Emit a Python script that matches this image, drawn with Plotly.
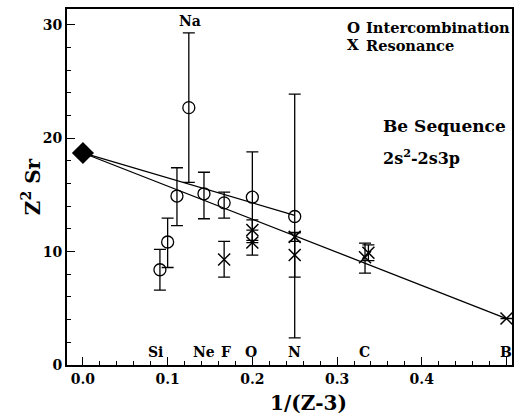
import plotly.graph_objects as go

# Intercombination (circles): Si, Al, Mg, Na, Ne, F, O, N
ic_x = [0.0909, 0.100, 0.111, 0.125, 0.1429, 0.1667, 0.200, 0.250]
ic_y = [8.4, 10.85, 14.9, 22.7, 15.1, 14.3, 14.8, 13.1]
ic_err_plus = [1.8, 2.1, 2.5, 6.6, 1.9, 0.95, 4.0, 10.8]
ic_err_minus = [1.8, 2.25, 2.6, 6.6, 2.2, 1.35, 4.0, 10.7]

# Resonance (crosses): F, O, O, N, N, C, C, B
res_x = [0.1667, 0.200, 0.200, 0.250, 0.250, 0.333, 0.337, 0.500]
res_y = [9.3, 11.9, 10.8, 11.3, 9.7, 9.5, 9.9, 4.1]
res_err_plus = [1.6, 0.9, 1.1, 0.4, 1.95, 1.25, 0.7, 0.0]
res_err_minus = [1.55, 0.9, 1.1, 0.4, 1.95, 1.4, 0.7, 0.0]

# Extrapolated point and fit lines
ext_x = [0.0]
ext_y = [18.7]
fit_ic_x = [0.0, 0.25]
fit_ic_y = [18.7, 13.2]
fit_res_x = [0.0, 0.5]
fit_res_y = [18.7, 4.1]

# Element labels
bottom_elements = ["Si", "Ne", "F", "O", "N", "C", "B"]
bottom_elements_x = [0.0860, 0.1429, 0.1690, 0.198, 0.250, 0.332, 0.500]
top_elements = ["Na"]
top_elements_x = [0.126]

x_ticks = [0.0, 0.1, 0.2, 0.3, 0.4, 0.5]
y_ticks = [0, 10, 20, 30]

FONT = "DejaVu Serif"
W, H = 517, 420
L, R, T, B = 67, 514, 9, 365


def px2paper(px, py):
    return (px - L) / (R - L), (B - py) / (B - T)


def ptext(px, py, text, size, bold=True, anchor="center", angle=0):
    x, y = px2paper(px, py)
    f = dict(family=FONT, size=size, color="black", weight="bold" if bold else "normal")
    return dict(x=x, y=y, xref="paper", yref="paper", text=text, showarrow=False,
                xanchor=anchor, yanchor="middle", textangle=angle, font=f)


fig = go.Figure()
fig.add_trace(go.Scatter(x=fit_ic_x, y=fit_ic_y, mode="lines",
                         line=dict(color="black", width=1.3), showlegend=False))
fig.add_trace(go.Scatter(x=fit_res_x, y=fit_res_y, mode="lines",
                         line=dict(color="black", width=1.3), showlegend=False))
fig.add_trace(go.Scatter(
    x=ic_x, y=ic_y, mode="markers",
    marker=dict(symbol="circle-open", size=12, color="black", line=dict(width=1.3)),
    error_y=dict(type="data", symmetric=False, array=ic_err_plus, arrayminus=ic_err_minus,
                 color="black", thickness=1.3, width=6),
    showlegend=False))
fig.add_trace(go.Scatter(
    x=res_x, y=res_y, mode="markers",
    marker=dict(symbol="x-thin-open", size=12, color="black", line=dict(width=1.5)),
    error_y=dict(type="data", symmetric=False, array=res_err_plus, arrayminus=res_err_minus,
                 color="black", thickness=1.3, width=6),
    showlegend=False))
fig.add_trace(go.Scatter(x=ext_x, y=ext_y, mode="markers",
                         marker=dict(symbol="diamond", size=17, color="black"),
                         showlegend=False))

annotations = []
for name, xv in zip(bottom_elements, bottom_elements_x):
    annotations.append(dict(x=xv, y=1.15, xref="x", yref="y", text=name, showarrow=False,
                            xanchor="center", yanchor="middle",
                            font=dict(family=FONT, size=14, color="black", weight="bold")))
for name, xv in zip(top_elements, top_elements_x):
    annotations.append(dict(x=xv, y=30.3, xref="x", yref="y", text=name, showarrow=False,
                            xanchor="center", yanchor="middle",
                            font=dict(family=FONT, size=14, color="black", weight="bold")))

annotations += [
    ptext(346, 28, "O", 15, anchor="left"),
    ptext(365, 28, "Intercombination", 14.6, anchor="left"),
    ptext(346, 45, "X", 15, anchor="left"),
    ptext(365, 45, "Resonance", 14.6, anchor="left"),
    ptext(446, 126, "Be Sequence", 17),
    ptext(423, 157, "2s<sup>2</sup>-2s3p", 16),
    ptext(310, 403, "1/(Z-3)", 20),
    ptext(31, 187, "Z<sup>2</sup> Sr", 20, angle=-90),
]

fig.update_layout(
    width=W, height=H,
    margin=dict(l=L, r=W - R, t=T, b=H - B, pad=0),
    paper_bgcolor="white", plot_bgcolor="white",
    font=dict(family=FONT, color="black", size=14, weight="bold"),
    annotations=annotations,
    xaxis=dict(range=[-0.0188, 0.5065], tickvals=x_ticks, ticktext=[f"{v:.1f}" for v in x_ticks],
               ticks="inside", ticklen=8, tickwidth=1.3, tickcolor="black",
               minor=dict(dtick=0.02, tick0=0, ticks="inside", ticklen=4, tickwidth=1, tickcolor="black"),
               showline=True, linecolor="black", linewidth=1.8, mirror=True,
               showgrid=False, zeroline=False,
               tickfont=dict(family=FONT, size=14, color="black", weight="bold")),
    yaxis=dict(range=[0, 31.4], tickvals=y_ticks,
               ticks="inside", ticklen=8, tickwidth=1.3, tickcolor="black",
               minor=dict(dtick=2, tick0=0, ticks="inside", ticklen=4, tickwidth=1, tickcolor="black"),
               showline=True, linecolor="black", linewidth=1.8, mirror=True,
               showgrid=False, zeroline=False,
               tickfont=dict(family=FONT, size=14, color="black", weight="bold")),
)
fig.write_html("out.html", config={"displayModeBar": False},
               post_script="document.body.style.margin='0';document.body.style.overflow='hidden';")
